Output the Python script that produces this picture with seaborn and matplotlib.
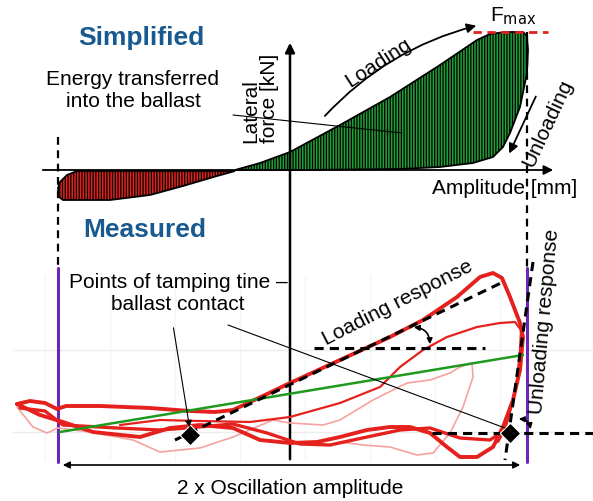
import numpy as np
import pandas as pd
import seaborn as sns
import matplotlib.pyplot as plt
from matplotlib.patches import FancyArrowPatch

# ---- data (picture space: x = px right, y = px down) ----
# simplified hysteresis: loading branch + unloading branch (green), negative part (red)
green_x = [235, 260, 290, 340, 390, 440, 477, 490, 505, 523, 527, 528, 527, 520, 510, 503, 493, 473, 440, 400, 300, 235]
green_y = [170, 163, 152, 125, 97, 65, 40, 34, 32, 32, 36, 50, 73, 107, 133, 147, 157, 163, 167, 169, 170, 170]
red_x = [235, 150, 77, 67, 60, 58, 59, 63, 110, 150, 183, 217, 235]
red_y = [171, 171, 171, 175, 182, 188, 197, 200, 200, 195, 186, 176, 171]

# measured response curves
thick_x = [17, 30, 45, 57, 66, 100, 150, 190, 215, 233, 265, 290, 340, 390, 423, 457, 480, 493, 502, 510,
           520, 523, 520, 513, 503, 493, 477, 460, 447, 430, 410, 390, 367, 340, 317, 290, 260, 233, 200,
           170, 140, 93, 63, 40, 17]
thick_y = [404, 401, 403, 409, 406, 406, 408, 411, 412, 410, 395, 383, 360, 337, 320, 297, 277, 273, 278, 297,
           323, 337, 370, 400, 427, 447, 457, 457, 447, 433, 427, 427, 430, 437, 442, 443, 440, 428, 425,
           428, 437, 432, 422, 415, 404]
thick2_x = [20, 45, 63, 117, 160, 187, 233, 267, 300, 330, 367, 400, 430, 460, 490, 505]
thick2_y = [408, 411, 425, 428, 430, 428, 424, 433, 444, 445, 437, 430, 428, 438, 440, 430]
thin_x = [120, 160, 200, 250, 290, 340, 380, 400, 423, 447, 477, 500, 515, 521, 520, 517, 512, 505, 498]
thin_y = [425, 420, 421, 422, 417, 403, 387, 367, 350, 337, 327, 323, 322, 330, 350, 380, 405, 430, 442]
pink_x = [17, 33, 47, 58, 90, 133, 160, 200, 233, 273, 290, 323, 340, 373, 407, 430, 450, 460, 472, 473,
          463, 450, 433, 417, 390, 363, 340]
pink_y = [407, 427, 433, 428, 432, 440, 452, 448, 437, 420, 423, 425, 420, 400, 383, 380, 373, 367, 363, 377,
          407, 433, 453, 455, 447, 445, 442]
secant_x = [60, 523]
secant_y = [432, 355]

load_tan_x = [175, 503]
load_tan_y = [440, 282]
unload_tan_x = [533, 505]
unload_tan_y = [262, 460]
contact_x = [190, 510]
contact_y = [435, 433]

green = '#22a038'
red = '#e5211d'
blue = '#18598f'
purple = '#6a28b8'

sns.set_theme(style='white')
plt.rcParams['font.family'] = ['Liberation Sans', 'DejaVu Sans']
plt.rcParams['text.color'] = 'black'
plt.rcParams['hatch.linewidth'] = 0.9

fig = plt.figure(figsize=(5.93, 5.01), dpi=100)
ax = fig.add_axes([0, 0, 1, 1])
ax.set_xlim(0, 593)
ax.set_ylim(501, 0)
ax.axis('off')

# faint grid of the measured plot
for gx in [45, 110, 175, 240, 305, 370, 435, 500]:
    ax.plot([gx, gx], [275, 460], color='#f5f5f5', lw=1, zorder=0)
for gy in [350, 432]:
    ax.plot([13, 593], [gy, gy], color='#ededed', lw=1, zorder=0)

# ---- simplified ----
ax.fill(green_x, green_y, facecolor=green, edgecolor='black', hatch='||||||', lw=1.3, zorder=2)
ax.fill(red_x, red_y, facecolor=red, edgecolor='black', hatch='||||||', lw=1.3, zorder=2)

ax.annotate('', xy=(556, 170), xytext=(40, 170),
            arrowprops=dict(arrowstyle='-|>', color='black', lw=1.3, mutation_scale=14), zorder=3)
ax.annotate('', xy=(290, 40), xytext=(290, 462),
            arrowprops=dict(arrowstyle='-|>', color='black', lw=1.8, mutation_scale=14), zorder=3)
ax.plot([58, 58], [137, 266], color='black', lw=1.6, ls=(0, (3.5, 2.5)), zorder=3)
ax.plot([527, 527], [32, 268], color='black', lw=1.6, ls=(0, (3.5, 2.5)), zorder=3)
ax.plot([473, 548], [32, 32], color=red, lw=2, ls=(0, (3, 2)), zorder=4)

ax.add_patch(FancyArrowPatch((323, 118), (479, 25), connectionstyle='arc3,rad=-0.15',
                             arrowstyle='-|>', mutation_scale=14, color='black', lw=1.3))
ax.add_patch(FancyArrowPatch((537, 94), (508, 156), arrowstyle='-|>', mutation_scale=14,
                             color='black', lw=1.3))
ax.plot([233, 402], [115, 133], color='black', lw=0.8, zorder=3)

ax.text(141, 38, 'Simplified', color=blue, fontsize=19, fontweight='bold', ha='center', va='center')
ax.text(133, 90, 'Energy transferred\ninto the ballast', fontsize=15, ha='center', va='center',
        linespacing=1.2)
ax.text(260, 143, 'Lateral\nforce [kN]', fontsize=15, rotation=90, ha='center', va='bottom',
        multialignment='left', linespacing=1.0)
ax.text(378, 63, 'Loading', fontsize=15, rotation=33, ha='center', va='center')
ax.text(548, 123, 'Unloading', fontsize=15, rotation=65, ha='center', va='center')
ax.text(505, 188, 'Amplitude [mm]', fontsize=15, ha='center', va='center')
ax.text(513, 16, r'F$_{\mathrm{max}}$', fontsize=15, ha='center', va='center')
ax.text(145, 230, 'Measured', color=blue, fontsize=19, fontweight='bold', ha='center', va='center')

# ---- measured ----
ax.plot([58, 58], [268, 462], color=purple, lw=2.2, zorder=3)
ax.plot([527, 527], [268, 462], color=purple, lw=2.2, zorder=3)

curves = pd.concat([
    pd.DataFrame({'x': pink_x, 'y': pink_y, 'run': 'pink'}),
    pd.DataFrame({'x': thin_x, 'y': thin_y, 'run': 'thin'}),
    pd.DataFrame({'x': thick2_x, 'y': thick2_y, 'run': 'thick2'}),
    pd.DataFrame({'x': thick_x, 'y': thick_y, 'run': 'thick'}),
])
styles = {'pink': ('#f4a3a0', 1.2), 'thin': (red, 1.6), 'thick2': (red, 2.4), 'thick': (red, 2.8)}
for run, grp in curves.groupby('run', sort=False):
    col, lw = styles[run]
    sns.lineplot(data=grp, x='x', y='y', sort=False, estimator=None, color=col, lw=lw, ax=ax, zorder=4)
sns.lineplot(x=secant_x, y=secant_y, color='#1e9a1e', lw=1.8, ax=ax, zorder=5)

dash = (0, (3, 2))
ax.plot(load_tan_x, load_tan_y, color='black', lw=2.2, ls=dash, zorder=6)
ax.plot(unload_tan_x, unload_tan_y, color='black', lw=2.2, ls=dash, zorder=6)
ax.plot([314, 485], [348, 348], color='black', lw=2.2, ls=dash, zorder=6)
ax.plot([432, 593], [433, 433], color='black', lw=2.2, ls=dash, zorder=6)
sns.scatterplot(x=contact_x, y=contact_y, marker='D', s=110, color='black', ax=ax, zorder=7)

ax.add_patch(FancyArrowPatch((411, 327), (430, 347), connectionstyle='arc3,rad=-0.5',
                             arrowstyle='<|-|>', mutation_scale=8, color='black', lw=1.2, zorder=7))
ax.add_patch(FancyArrowPatch((516, 419), (531, 432), connectionstyle='arc3,rad=-0.5',
                             arrowstyle='<|-|>', mutation_scale=8, color='black', lw=1.2, zorder=7))

ax.annotate('', xy=(190, 430), xytext=(173, 325),
            arrowprops=dict(arrowstyle='-|>', color='black', lw=0.8, mutation_scale=10), zorder=8)
ax.plot([228, 505], [325, 428], color='black', lw=0.8, zorder=8)

ax.annotate('', xy=(60, 465), xytext=(523, 465),
            arrowprops=dict(arrowstyle='<|-|>', color='black', lw=1.2, mutation_scale=10), zorder=3)

ax.text(178, 294, 'Points of tamping tine \u2013\nballast contact', fontsize=15, ha='center',
        va='center', linespacing=1.2)
ax.text(398, 303, 'Loading response', fontsize=15, rotation=27, ha='center', va='center')
ax.text(545, 322, 'Unloading response', fontsize=15, rotation=85, ha='center', va='center')
ax.text(290, 488, '2 x Oscillation amplitude', fontsize=15, ha='center', va='center')

plt.savefig('out.png', dpi=100)
